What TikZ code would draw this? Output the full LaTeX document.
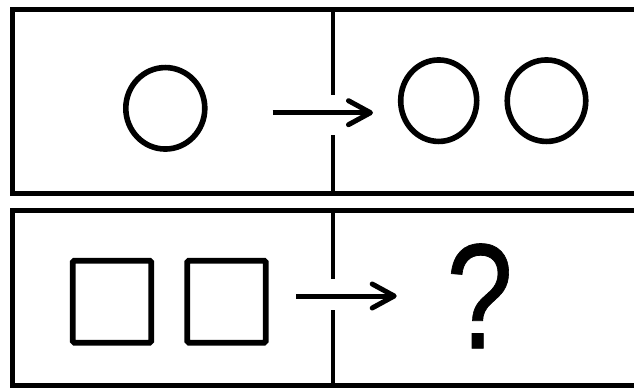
\documentclass[tikz,border=0pt]{standalone}
\usepackage{fontspec}
\setmainfont{Liberation Sans}
\newfontfamily\qfont[FakeBold=0.5]{Liberation Sans}
\usetikzlibrary{arrows.meta,shapes.geometric}
\tikzset{
  frameline/.style={line width=5pt, line join=miter},
  divider/.style={line width=4.4pt},
  shapeline/.style={draw, line width=5.6pt, inner sep=0pt, outer sep=0pt},
  oval/.style={shapeline, ellipse},
  sq/.style={shapeline, rectangle, rounded corners=1.5pt, minimum width=78.5pt, minimum height=82pt},
  conn/.style={line width=5pt, -{Straight Barb[length=22pt, width=24pt, line width=5pt, round]}},
}
\begin{document}
\begin{tikzpicture}[x=1pt, y=-1pt]
\useasboundingbox (0,0) rectangle (634,388);
\fill[white] (0,0) rectangle (634,388);
\clip (0,0) rectangle (634,388);
% top panel
\draw[frameline] (645,9.5) -- (12.3,9.5) -- (12.3,193) -- (645,193);
\draw[divider] (333,9.5) -- (333,95);
\draw[divider] (333,135) -- (333,193);
% bottom panel
\draw[frameline] (645,210.5) -- (12.3,210.5) -- (12.3,385) -- (645,385);
\draw[divider] (333,210.5) -- (333,279);
\draw[divider] (333,310) -- (333,385);
% shapes top
\node[oval, minimum width=79pt, minimum height=81.5pt] (c0) at (165.3,108.3) {};
\node[oval, minimum width=76pt, minimum height=81.5pt] (c1) at (438.7,100.7) {};
\node[oval, minimum width=78.5pt, minimum height=81.5pt] (c2) at (546.5,100.7) {};
% shapes bottom
\node[sq] (s1) at (112,301.7) {};
\node[sq] (s2) at (226.5,301.7) {};
\node[anchor=base, inner sep=0pt, xscale=0.8] (q) at (479.7,348.3) {\qfont\fontsize{150}{150}\selectfont ?};
% arrows
\coordinate (a1s) at (272.7,112.7);
\coordinate (a1e) at (373,112.7);
\coordinate (a2s) at (296,296);
\coordinate (a2e) at (396.7,296);
\draw[conn] (a1s) -- (a1e);
\draw[conn] (a2s) -- (a2e);
\end{tikzpicture}
\end{document}
